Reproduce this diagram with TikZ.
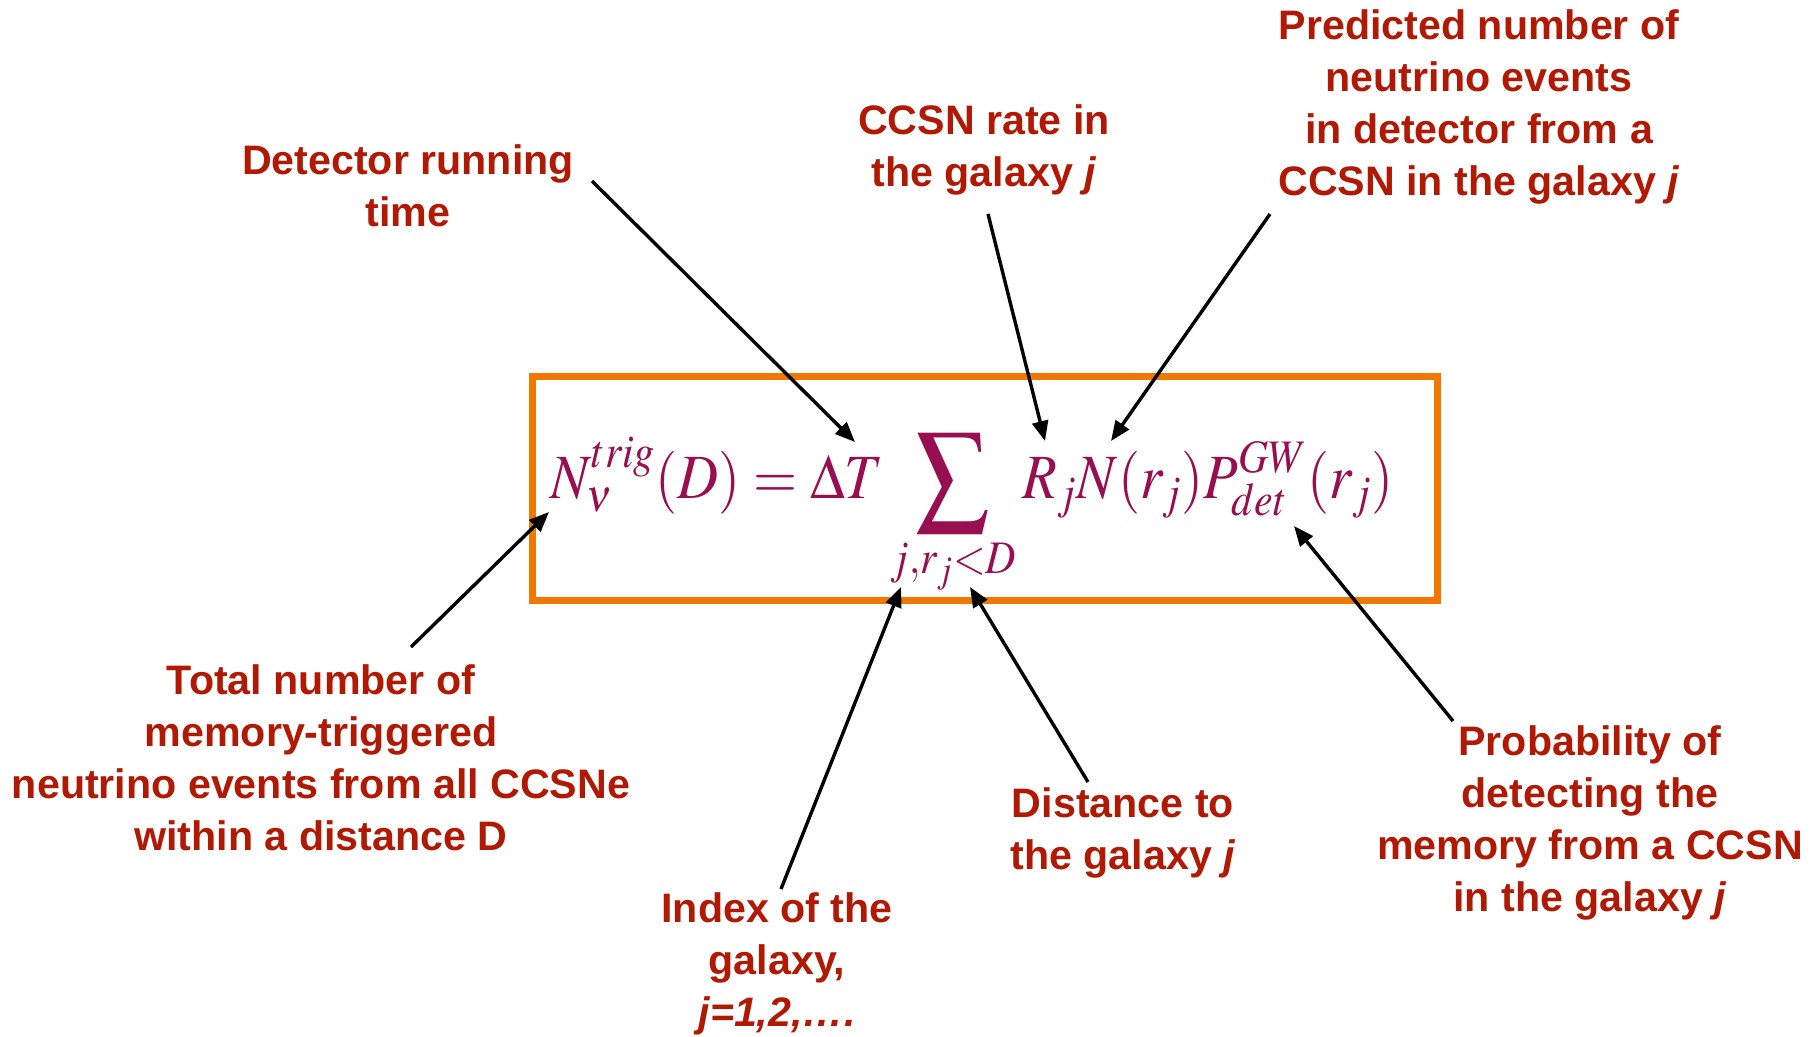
\documentclass[tikz,border=0pt]{standalone}
\usepackage{mathptmx}
\usepackage{fontspec}
\setmainfont{Liberation Sans}
\usepackage{xcolor}
\usetikzlibrary{arrows.meta, positioning}
\definecolor{lblred}{HTML}{B01A05}
\definecolor{eqpurple}{HTML}{970F51}
\definecolor{boxorange}{HTML}{F07800}
\newcommand{\galsum}{\mathop{\vcenter{\hbox{\scalebox{1.28}{$\displaystyle\sum$}}}}\limits}

\tikzset{
  lbl/.style={font=\fontsize{20.6}{26}\selectfont\bfseries, text=lblred, align=center, inner sep=0pt},
  ptr/.style={-{Triangle[length=10pt,width=8pt]}, line width=1.7pt, black}
}

\begin{document}
\begin{tikzpicture}[x=0.5pt, y=-0.5pt]
\useasboundingbox (0,0) rectangle (1811,1037);
% formula in its frame
\draw[boxorange, line width=3.5pt] (532,377) rectangle (1437,601);
\node[text=eqpurple, font=\fontsize{31.5}{38}\selectfont, inner sep=0pt, anchor=base west,
  xscale=0.9, transform shape] (formula) at (550,499)
  {$\displaystyle N_\nu^{trig}(D) = \Delta T \galsum_{j,r_j<D} R_j N(r_j) P_{det}^{GW}(r_j)$};
% where the arrows point
\coordinate (dT) at (855,442);
\coordinate (Rj) at (1045,441);
\coordinate (Nr) at (1111,441);
\coordinate (Nnu) at (549,512);
\coordinate (jj) at (901,587);
\coordinate (rj) at (970,587);
\coordinate (Pdet) at (1294,526);
% labels
\node[lbl] (runtime) at (408,186) {Detector running\\time};
\node[lbl] (rate) at (984,150) {CCSN rate in\\the galaxy \textit{j}};
\node[lbl] (events) at (1479,107) {Predicted number of\\neutrino events\\in detector from a\\CCSN in the galaxy \textit{j}};
\node[lbl] (total) at (321,758) {Total number of\\memory-triggered\\neutrino events from all CCSNe\\within a distance D};
\node[lbl] (index) at (777,964) {Index of the\\galaxy,\\\textit{j=1,2,\dots.}};
\node[lbl] (dist) at (1123,833) {Distance to\\the galaxy \textit{j}};
\node[lbl] (prob) at (1590,823) {Probability of\\detecting the\\memory from a CCSN\\in the galaxy \textit{j}};
% tails
\coordinate (runtimeT) at (592,181);
\coordinate (rateT) at (988,214);
\coordinate (eventsT) at (1270,214);
\coordinate (totalT) at (411,647);
\coordinate (indexT) at (781,889);
\coordinate (distT) at (1088,782);
\coordinate (probT) at (1453,721);
\draw[ptr] (runtimeT) -- (dT);
\draw[ptr] (rateT) -- (Rj);
\draw[ptr] (eventsT) -- (Nr);
\draw[ptr] (totalT) -- (Nnu);
\draw[ptr] (indexT) -- (jj);
\draw[ptr] (distT) -- (rj);
\draw[ptr] (probT) -- (Pdet);
\end{tikzpicture}
\end{document}
